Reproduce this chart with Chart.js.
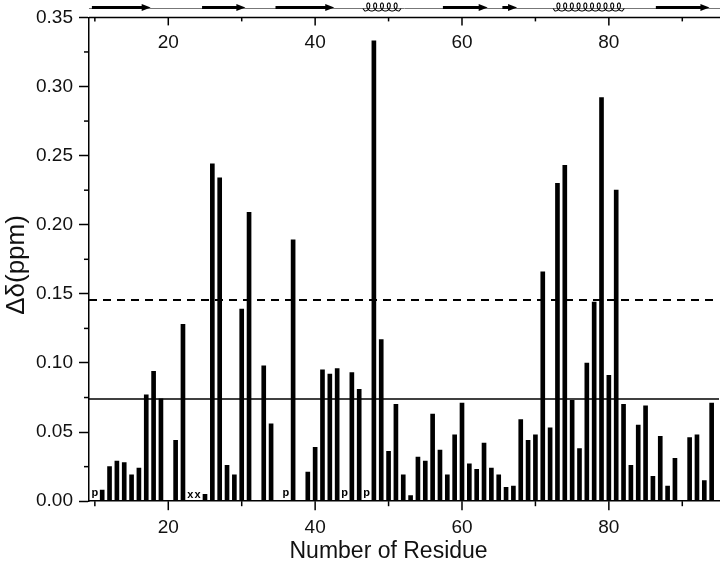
<!DOCTYPE html>
<html>
<head>
<meta charset="utf-8">
<script src="https://cdn.jsdelivr.net/npm/chart.js@4.4.1/dist/chart.umd.min.js"></script>
<style>
  html, body { margin: 0; padding: 0; background: #fff; }
</style>
</head>
<body>
<canvas id="shift-chart" width="720" height="570"></canvas>
<script>
// residue numbers with a measured shift, and the shift (ppm) of each
const residues = [11, 12, 13, 14, 15, 16, 17, 18, 19, 21, 22, 25, 26, 27, 28, 29, 30, 31, 33, 34,
  37, 39, 40, 41, 42, 43, 45, 46, 48, 49, 50, 51, 52, 53, 54, 55, 56, 57, 58, 59,
  60, 61, 62, 63, 64, 65, 66, 67, 68, 69, 70, 71, 72, 73, 74, 75, 76, 77, 78, 79,
  80, 81, 82, 83, 84, 85, 86, 87, 88, 89, 91, 92, 93, 94];
const shifts = [0.008, 0.025, 0.029, 0.028, 0.019, 0.024, 0.077, 0.094, 0.074, 0.044, 0.128, 0.005, 0.244, 0.234, 0.026, 0.019, 0.139, 0.209, 0.098, 0.056,
  0.189, 0.021, 0.039, 0.095, 0.092, 0.096, 0.093, 0.081, 0.333, 0.117, 0.036, 0.070, 0.019, 0.004, 0.032, 0.029, 0.063, 0.037, 0.019, 0.048,
  0.071, 0.027, 0.023, 0.042, 0.024, 0.019, 0.010, 0.011, 0.059, 0.044, 0.048, 0.166, 0.053, 0.230, 0.243, 0.073, 0.038, 0.100, 0.144, 0.292,
  0.091, 0.225, 0.070, 0.026, 0.055, 0.069, 0.018, 0.047, 0.011, 0.031, 0.046, 0.048, 0.015, 0.071];

// residues marked under the bars
const prolines = [10, 36, 44, 47];
const unassigned = [23, 24];

// cut-off lines
const meanCut = 0.074;
const meanPlusSdCut = 0.1455;

// secondary structure along the top, [first, last] residue
const strands = [[9.6, 17.6], [24.6, 30.5], [34.6, 42.6], [57.4, 63.5], [65.5, 67.5], [86.4, 93.7]];
const helices = [[46.5, 51.7], [72.4, 82.1]];

// axes
const xMin = 9.2, xMax = 95;
const xLabelTicks = [20, 40, 60, 80];
const xMinorTicks = [10, 30, 50, 70, 90];
const yTicks = [0, 0.05, 0.10, 0.15, 0.20, 0.25, 0.30, 0.35];
const yMinorTicks = [0.025, 0.075, 0.125, 0.175, 0.225, 0.275, 0.325];

Chart.defaults.font.family = "'Liberation Sans', Arial, sans-serif";
Chart.defaults.color = '#111';

function seg(ctx, x1, y1, x2, y2) {
  ctx.beginPath();
  ctx.moveTo(x1, y1);
  ctx.lineTo(x2, y2);
  ctx.stroke();
}

const decorPlugin = {
  id: 'decor',
  afterDatasetsDraw(chart) {
    const { ctx, scales: { x, y } } = chart;
    ctx.save();
    ctx.fillStyle = '#000';
    ctx.font = "bold 11px 'Liberation Sans', Arial, sans-serif";
    ctx.textAlign = 'center';
    ctx.textBaseline = 'alphabetic';
    prolines.forEach(r => ctx.fillText('p', x.getPixelForValue(r), y.getPixelForValue(0) - 5));
    unassigned.forEach(r => ctx.fillText('x', x.getPixelForValue(r), y.getPixelForValue(0) - 3));
    ctx.restore();
  },
  afterDraw(chart) {
    const { ctx, chartArea: a, scales: { x, y } } = chart;
    ctx.save();
    ctx.strokeStyle = '#000';
    ctx.lineWidth = 1.5;

    // minor y ticks
    yMinorTicks.forEach(v => seg(ctx, a.left - 5, y.getPixelForValue(v), a.left, y.getPixelForValue(v)));
    // bottom ticks
    xLabelTicks.forEach(v => seg(ctx, x.getPixelForValue(v), a.bottom, x.getPixelForValue(v), a.bottom + 9));
    xMinorTicks.forEach(v => seg(ctx, x.getPixelForValue(v), a.bottom, x.getPixelForValue(v), a.bottom + 5));
    // top axis, ticks pointing in
    seg(ctx, a.left, a.top, chart.width, a.top);
    xLabelTicks.forEach(v => seg(ctx, x.getPixelForValue(v), a.top, x.getPixelForValue(v), a.top + 8));
    xMinorTicks.forEach(v => seg(ctx, x.getPixelForValue(v), a.top, x.getPixelForValue(v), a.top + 4));

    ctx.fillStyle = '#111';
    ctx.font = "19px 'Liberation Sans', Arial, sans-serif";
    ctx.textAlign = 'center';
    ctx.textBaseline = 'middle';
    xLabelTicks.forEach(v => ctx.fillText(String(v), x.getPixelForValue(v), a.top + 25));

    // secondary structure strip
    const yLine = 8.5, yArrow = 7.5;
    ctx.strokeStyle = '#777';
    ctx.lineWidth = 1;
    seg(ctx, a.left, yLine, chart.width, yLine);

    ctx.strokeStyle = '#000';
    ctx.fillStyle = '#000';
    strands.forEach(([s, e]) => {
      const x0 = x.getPixelForValue(s), x1 = x.getPixelForValue(e);
      const head = 9;
      ctx.lineWidth = 3;
      seg(ctx, x0, yArrow, x1 - head + 1, yArrow);
      ctx.beginPath();
      ctx.moveTo(x1 - head, yArrow - 3.5);
      ctx.lineTo(x1, yArrow);
      ctx.lineTo(x1 - head, yArrow + 3.5);
      ctx.closePath();
      ctx.fill();
    });

    ctx.lineWidth = 1.1;
    helices.forEach(([s, e]) => {
      const x0 = x.getPixelForValue(s), x1 = x.getPixelForValue(e);
      const turns = Math.max(1, Math.round((x1 - x0 - 4) / 7));
      const p = (x1 - x0 - 4) / turns;
      const base = 11, h = 8, d = 3;
      ctx.beginPath();
      ctx.moveTo(x0, yLine);
      ctx.lineTo(x0 + 2, base);
      const n = turns * 40;
      for (let i = 0; i <= n; i++) {
        const t = i / 40 * 2 * Math.PI;
        const px = x0 + 2 + p * t / (2 * Math.PI) + d * Math.sin(t);
        const py = base - h * (1 - Math.cos(t)) / 2;
        ctx.lineTo(px, py);
      }
      ctx.lineTo(x1, yLine);
      ctx.stroke();
    });

    // axis titles
    ctx.fillStyle = '#111';
    ctx.font = "23px 'Liberation Sans', Arial, sans-serif";
    ctx.textAlign = 'center';
    ctx.textBaseline = 'middle';
    ctx.fillText('Number of Residue', x.getPixelForValue(50), 552);

    ctx.translate(17, 265);
    ctx.rotate(-Math.PI / 2);
    ctx.font = "26px 'Liberation Sans', Arial, sans-serif";
    ctx.fillText('Δδ(ppm)', 0, 0);
    ctx.restore();
  }
};

new Chart(document.getElementById('shift-chart'), {
  type: 'bar',
  data: {
    datasets: [
      {
        type: 'line',
        data: [{ x: xMin, y: meanPlusSdCut }, { x: xMax, y: meanPlusSdCut }],
        borderColor: '#000',
        borderWidth: 2,
        borderDash: [8, 6],
        pointRadius: 0,
        order: 1
      },
      {
        type: 'line',
        data: [{ x: xMin, y: meanCut }, { x: xMax, y: meanCut }],
        borderColor: '#000',
        borderWidth: 1.5,
        pointRadius: 0,
        order: 1
      },
      {
        type: 'bar',
        data: residues.map((r, i) => ({ x: r, y: shifts[i] })),
        backgroundColor: '#000',
        barThickness: 4,
        order: 2
      }
    ]
  },
  options: {
    responsive: false,
    animation: false,
    devicePixelRatio: 1,
    layout: { padding: { left: 30, right: 1, top: 15, bottom: 16 } },
    plugins: { legend: { display: false }, tooltip: { enabled: false } },
    scales: {
      x: {
        type: 'linear',
        min: xMin,
        max: xMax,
        offset: false,
        afterBuildTicks: s => { s.ticks = xLabelTicks.map(v => ({ value: v })); },
        ticks: { font: { size: 19 }, padding: 15, maxRotation: 0, autoSkip: false },
        grid: { drawOnChartArea: false, drawTicks: false },
        border: { color: '#000', width: 1.5 }
      },
      y: {
        min: 0,
        max: 0.35,
        afterBuildTicks: s => { s.ticks = yTicks.map(v => ({ value: v })); },
        ticks: { font: { size: 19 }, padding: 6, callback: v => v.toFixed(2) },
        grid: { drawOnChartArea: false, tickLength: 10, tickColor: '#000', tickWidth: 1.5 },
        border: { color: '#000', width: 1.5 }
      }
    }
  },
  plugins: [decorPlugin]
});
</script>
</body>
</html>
